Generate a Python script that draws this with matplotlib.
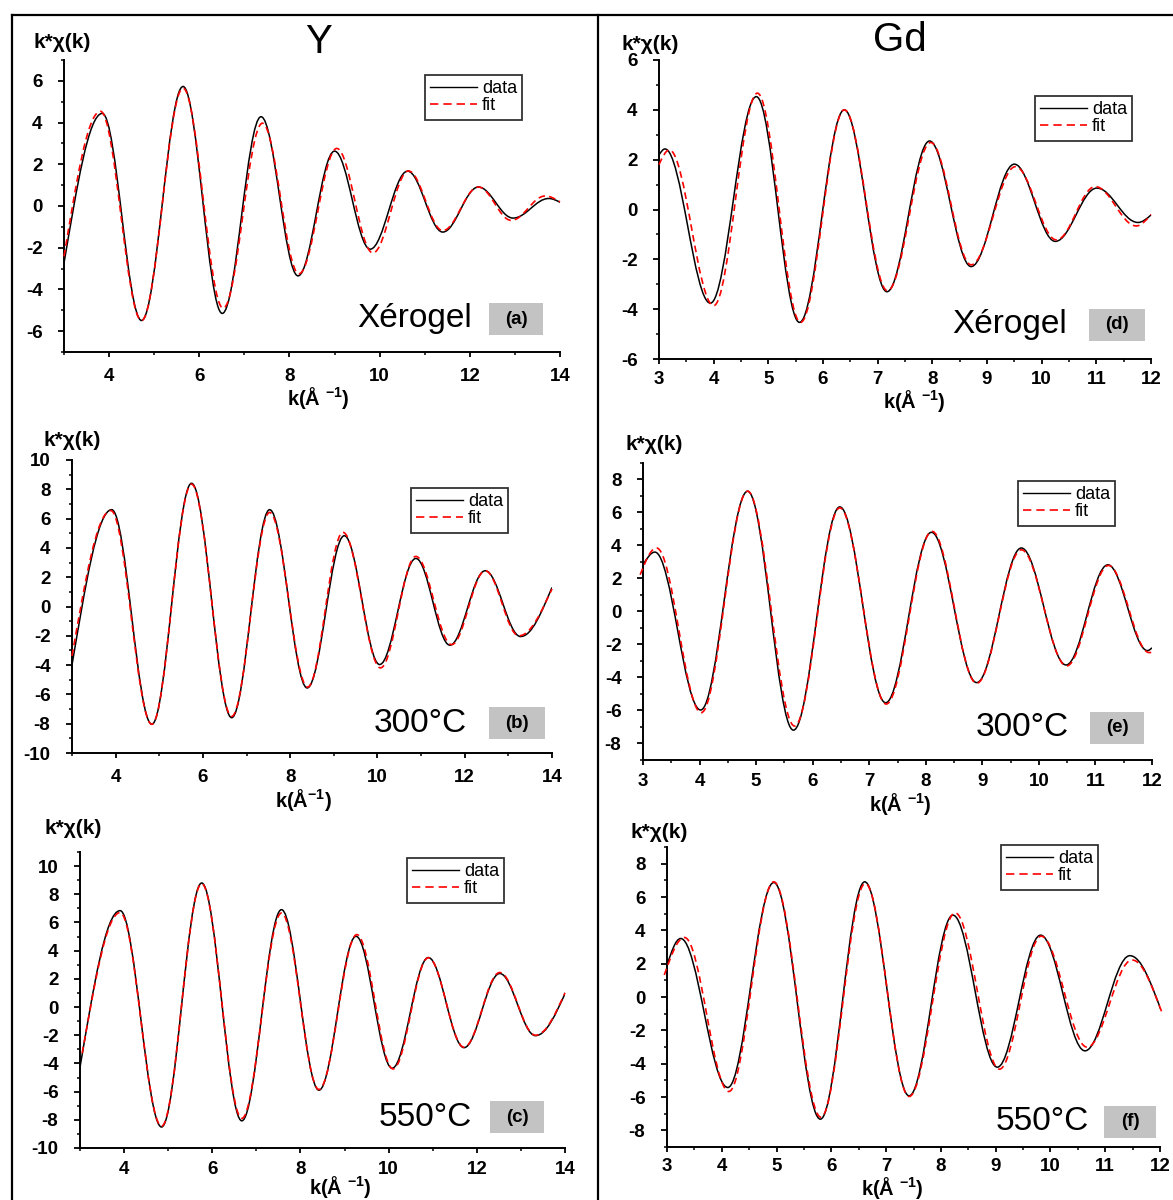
import matplotlib
matplotlib.use('Agg')
import matplotlib.pyplot as plt
from matplotlib.path import Path
from matplotlib.patches import PathPatch, Rectangle
from matplotlib.lines import Line2D
from matplotlib.ticker import MultipleLocator

plt.rcParams['font.family'] = ['Liberation Sans', 'DejaVu Sans']
plt.rcParams['mathtext.fontset'] = 'custom'
plt.rcParams['mathtext.bf'] = 'Liberation Sans:bold'
plt.rcParams['mathtext.rm'] = 'Liberation Sans:bold'
plt.rcParams['mathtext.default'] = 'bf'
plt.rcParams['axes.unicode_minus'] = False

# ---------------- data: extrema (k, k*chi) ----------------
# Y xerogel (a)
a_data_k = [3.0, 3.85, 4.72, 5.64, 6.51, 7.37, 8.19, 9.00, 9.79, 10.62, 11.40, 12.19, 12.96, 13.75, 14.0]
a_data_y = [-2.74, 4.44, -5.49, 5.73, -5.15, 4.28, -3.35, 2.63, -2.07, 1.67, -1.25, 0.91, -0.58, 0.36, 0.18]
a_fit_k = [3.0, 3.81, 4.72, 5.64, 6.53, 7.40, 8.21, 9.05, 9.85, 10.64, 11.40, 12.19, 12.92, 13.67, 14.0]
a_fit_y = [-2.42, 4.54, -5.49, 5.65, -4.90, 3.97, -3.25, 2.76, -2.25, 1.68, -1.18, 0.91, -0.69, 0.48, 0.20]

# Y 300 C (b)
b_data_k = [3.0, 3.91, 4.83, 5.74, 6.66, 7.53, 8.39, 9.24, 10.05, 10.88, 11.66, 12.47, 13.28, 14.0]
b_data_y = [-3.99, 6.61, -8.04, 8.41, -7.59, 6.61, -5.56, 4.83, -3.96, 3.28, -2.64, 2.44, -2.05, 1.30]
b_fit_k = [3.0, 3.89, 4.83, 5.74, 6.66, 7.53, 8.40, 9.21, 10.07, 10.88, 11.70, 12.47, 13.24, 14.0]
b_fit_y = [-3.37, 6.55, -8.04, 8.35, -7.50, 6.42, -5.50, 5.06, -4.19, 3.42, -2.60, 2.44, -2.00, 1.20]

# Y 550 C (c)
c_data_k = [3.0, 3.91, 4.85, 5.76, 6.67, 7.57, 8.42, 9.26, 10.08, 10.90, 11.71, 12.52, 13.33, 14.02]
c_data_y = [-4.27, 6.84, -8.51, 8.80, -8.07, 6.91, -5.90, 5.02, -4.34, 3.51, -2.88, 2.38, -2.03, 1.08]
c_fit_k = [3.05, 3.91, 4.85, 5.76, 6.67, 7.57, 8.42, 9.28, 10.10, 10.90, 11.71, 12.52, 13.33, 14.0]
c_fit_y = [-3.28, 6.70, -8.45, 8.75, -7.90, 6.67, -5.85, 5.14, -4.39, 3.50, -2.85, 2.45, -2.00, 1.00]

# Gd xerogel (d)
d_data_k = [3.0, 3.11, 3.94, 4.78, 5.57, 6.39, 7.17, 7.95, 8.71, 9.50, 10.25, 11.01, 11.76, 12.0]
d_data_y = [2.19, 2.43, -3.76, 4.53, -4.53, 4.00, -3.30, 2.75, -2.29, 1.82, -1.28, 0.86, -0.52, -0.22]
d_fit_k = [3.0, 3.19, 4.00, 4.80, 5.59, 6.39, 7.18, 7.97, 8.71, 9.52, 10.27, 10.98, 11.73, 12.0]
d_fit_y = [1.80, 2.39, -3.86, 4.67, -4.53, 4.00, -3.26, 2.69, -2.22, 1.72, -1.22, 0.92, -0.66, -0.20]

# Gd 300 C (e)
e_data_k = [3.0, 3.21, 4.02, 4.85, 5.66, 6.48, 7.29, 8.10, 8.90, 9.69, 10.48, 11.22, 11.92, 12.0]
e_data_y = [2.83, 3.60, -5.97, 7.29, -7.19, 6.34, -5.53, 4.80, -4.31, 3.85, -3.24, 2.83, -2.37, -2.20]
e_fit_k = [2.95, 3.24, 4.03, 4.85, 5.68, 6.48, 7.30, 8.11, 8.90, 9.69, 10.49, 11.23, 11.95, 12.0]
e_fit_y = [2.23, 3.85, -6.13, 7.29, -6.94, 6.28, -5.61, 4.86, -4.35, 3.74, -3.30, 2.79, -2.49, -2.47]

# Gd 550 C (f)
f_data_k = [3.0, 3.25, 4.11, 4.95, 5.80, 6.61, 7.42, 8.22, 9.03, 9.82, 10.63, 11.45, 12.03]
f_data_y = [1.92, 3.51, -5.43, 6.87, -7.33, 6.91, -5.93, 4.91, -4.21, 3.71, -3.23, 2.48, -0.88]
f_fit_k = [2.95, 3.32, 4.13, 4.95, 5.81, 6.62, 7.42, 8.26, 9.07, 9.83, 10.67, 11.49, 12.03]
f_fit_y = [1.32, 3.57, -5.67, 6.91, -7.21, 6.81, -5.97, 5.05, -4.33, 3.65, -3.01, 2.22, -0.88]

panel_letters = ['(a)', '(b)', '(c)', '(d)', '(e)', '(f)']
panel_states = ['Xérogel', '300°C', '550°C', 'Xérogel', '300°C', '550°C']
column_titles = ['Y', 'Gd']
legend_labels = ['data', 'fit']
ylabel_text = 'k*χ(k)'

# ---------------- layout (pixel based) ----------------
W, H = 1173, 1200
fig = plt.figure(figsize=(W / 100, H / 100), dpi=100)


def fx(x):
    return x / W


def fy(y):
    return 1 - y / H


def smooth_path(ks, ys, a=0.3634):
    """Bezier path through the read extrema, horizontal tangents at the extrema."""
    verts = [(ks[0], ys[0])]
    codes = [Path.MOVETO]
    n = len(ks)
    for i in range(n - 1):
        x0, y0, x1, y1 = ks[i], ys[i], ks[i + 1], ys[i + 1]
        dx = x1 - x0
        sec = (y1 - y0) / dx
        if i == 0:
            c1 = (x0 + dx / 3, y0 + 1.5 * sec * dx / 3)
        else:
            c1 = (x0 + a * dx, y0)
        if i == n - 2:
            c2 = (x1 - dx / 3, y1 - 1.5 * sec * dx / 3)
        else:
            c2 = (x1 - a * dx, y1)
        verts += [c1, c2, (x1, y1)]
        codes += [Path.CURVE4, Path.CURVE4, Path.CURVE4]
    return Path(verts, codes)


panels = [
    dict(dk=a_data_k, dy=a_data_y, fk=a_fit_k, fy=a_fit_y, box=(64, 560, 60, 352),
         xlim=(3, 14), ylim=(-7, 7), yt=range(-6, 7, 2), xmaj=2, xmin=1, ymin=1, xpad=8,
         ylab=(62, 42), xlab=(318, 398), xtxt='k(Å $^{-1}$)',
         state=(415, 319), lbox=(489, 543, 303, 335),
         leg=(425, 75, 542, 122)),
    dict(dk=b_data_k, dy=b_data_y, fk=b_fit_k, fy=b_fit_y, box=(72, 552, 460, 753),
         xlim=(3, 14), ylim=(-10, 10), yt=range(-10, 11, 2), xmaj=2, xmin=1, ymin=1, xpad=8,
         ylab=(72, 440), xlab=(303, 800), xtxt='k(Å$^{-1}$)',
         state=(420, 723), lbox=(489, 545, 707, 739),
         leg=(411, 488, 516, 530)),
    dict(dk=c_data_k, dy=c_data_y, fk=c_fit_k, fy=c_fit_y, box=(80, 565, 852, 1148),
         xlim=(3, 14), ylim=(-10, 11), yt=range(-10, 11, 2), xmaj=2, xmin=1, ymin=1, xpad=6,
         ylab=(73, 828), xlab=(340, 1187), xtxt='k(Å $^{-1}$)',
         state=(425, 1117), lbox=(490, 544, 1101, 1133),
         leg=(407, 858, 527, 905)),
    dict(dk=d_data_k, dy=d_data_y, fk=d_fit_k, fy=d_fit_y, box=(659, 1151, 60, 359),
         xlim=(3, 12), ylim=(-6, 6), yt=range(-6, 7, 2), xmaj=1, xmin=0.5, ymin=1, xpad=5.5,
         ylab=(650, 44), xlab=(914, 401), xtxt='k(Å $^{-1}$)',
         state=(1010, 325), lbox=(1089, 1145, 309, 341),
         leg=(1035, 96, 1146, 140)),
    dict(dk=e_data_k, dy=e_data_y, fk=e_fit_k, fy=e_fit_y, box=(643, 1152, 463, 760),
         xlim=(3, 12), ylim=(-9, 9), yt=range(-8, 9, 2), xmaj=1, xmin=0.5, ymin=1, xpad=5.5,
         ylab=(654, 444), xlab=(900, 804), xtxt='k(Å $^{-1}$)',
         state=(1022, 728), lbox=(1090, 1144, 712, 744),
         leg=(1018, 481, 1127, 526)),
    dict(dk=f_data_k, dy=f_data_y, fk=f_fit_k, fy=f_fit_y, box=(667, 1160, 847, 1147),
         xlim=(3, 12), ylim=(-9, 9), yt=range(-8, 9, 2), xmaj=1, xmin=0.5, ymin=1, xpad=4.5,
         ylab=(659, 832), xlab=(892, 1188), xtxt='k(Å $^{-1}$)',
         state=(1042, 1122), lbox=(1104, 1156, 1106, 1138),
         leg=(1001, 845, 1125, 902)),
]

for idx, p in enumerate(panels):
    x0, x1, yt_, yb_ = p['box']
    ax = fig.add_axes([fx(x0), fy(yb_), (x1 - x0) / W, (yb_ - yt_) / H])
    ax.set_xlim(*p['xlim'])
    ax.set_ylim(*p['ylim'])
    for s in ['top', 'right']:
        ax.spines[s].set_visible(False)
    for s in ['left', 'bottom']:
        ax.spines[s].set_linewidth(1.4)
    ax.set_yticks(list(p['yt']))
    ax.xaxis.set_major_locator(MultipleLocator(p['xmaj']))
    ax.xaxis.set_minor_locator(MultipleLocator(p['xmin']))
    ax.yaxis.set_minor_locator(MultipleLocator(p['ymin']))
    ax.tick_params(axis='y', which='major', direction='out', length=4.5, width=1.3,
                   labelsize=13.5, pad=11)
    ax.tick_params(axis='x', which='major', direction='out', length=3.5, width=1.3,
                   labelsize=13.5, pad=p['xpad'])
    ax.tick_params(which='minor', direction='out', length=2.5, width=1.1)
    if p['xlim'][1] == 14:
        ax.set_xticks([t for t in range(4, 15, 2)])
    for lab in ax.get_xticklabels() + ax.get_yticklabels():
        lab.set_fontweight('bold')
    ax.patch.set_alpha(0)

    ax.add_patch(PathPatch(smooth_path(p['dk'], p['dy']), fill=False, edgecolor='black',
                           lw=1.1, zorder=3))
    ax.add_patch(PathPatch(smooth_path(p['fk'], p['fy']), fill=False, edgecolor='#ff0000',
                           lw=1.2, linestyle=(0, (4, 2.5)), zorder=4, clip_on=False))

    # legend
    lx0, ly0, lx1, ly1 = p['leg']
    handles = [Line2D([], [], color='black', lw=1.0),
               Line2D([], [], color='#ff0000', lw=1.2, linestyle=(0, (5, 3)))]
    leg = ax.legend(handles, legend_labels, loc='upper left',
                    bbox_to_anchor=(fx(lx0), fy(ly0)), bbox_transform=fig.transFigure,
                    fontsize=13, handlelength=2.6, handletextpad=0.25, labelspacing=0.0,
                    borderpad=0.3, borderaxespad=0, fancybox=False, frameon=True)
    leg.get_frame().set_edgecolor('black')
    leg.get_frame().set_linewidth(1.3)

    # axis labels
    fig.text(fx(p['ylab'][0]), fy(p['ylab'][1]), ylabel_text, ha='center', va='center',
             fontsize=15, fontweight='bold')
    fig.text(fx(p['xlab'][0]), fy(p['xlab'][1]), p['xtxt'], ha='center', va='center',
             fontsize=14.5, fontweight='bold')

    # state label and panel letter
    fig.text(fx(p['state'][0]), fy(p['state'][1]), panel_states[idx], ha='center', va='center',
             fontsize=24)
    bx0, bx1, by0, by1 = p['lbox']
    fig.patches.append(Rectangle((fx(bx0), fy(by1)), (bx1 - bx0) / W, (by1 - by0) / H,
                                 transform=fig.transFigure, facecolor='#c3c3c3',
                                 edgecolor='none', zorder=1))
    fig.text(fx((bx0 + bx1) / 2), fy((by0 + by1) / 2), panel_letters[idx], ha='center',
             va='center', fontsize=13.5, fontweight='bold', zorder=2)

# column titles
fig.text(fx(319), fy(42), column_titles[0], ha='center', va='center', fontsize=29)
fig.text(fx(900), fy(40), column_titles[1], ha='center', va='center', fontsize=29)

# frame lines
for (xa, ya, xb, yb) in [(12, 15, 1173, 15), (12, 15, 12, 1200), (598, 15, 598, 1200)]:
    fig.add_artist(Line2D([fx(xa), fx(xb)], [fy(ya), fy(yb)], transform=fig.transFigure,
                          color='black', lw=1.6))

fig.savefig('out.png', dpi=100)
